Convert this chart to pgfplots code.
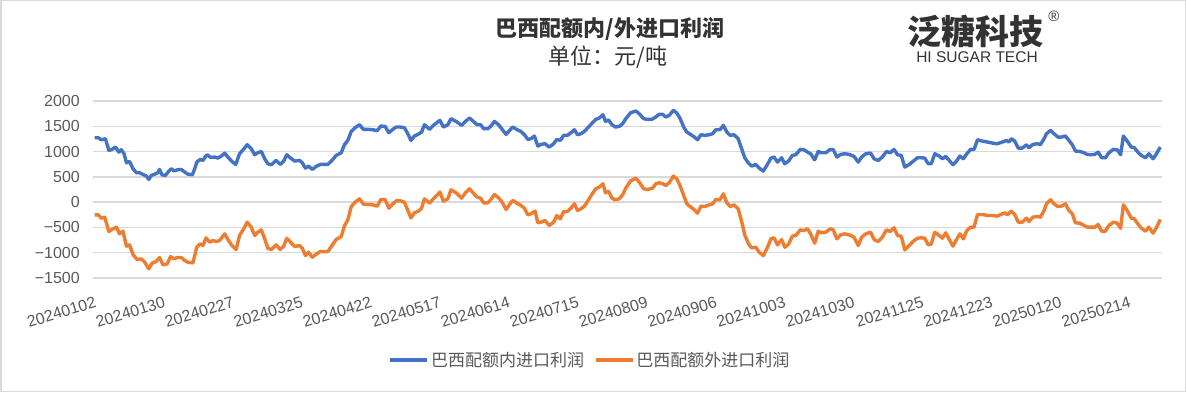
\documentclass[border=0pt]{standalone}
\usepackage{fontspec}
\setmainfont{Liberation Sans}
\newfontfamily\cjk{Noto Sans CJK SC}
\usepackage{pgfplots}
\pgfplotsset{compat=1.18}
\usepackage{pgfplotstable}
\definecolor{sblue}{HTML}{4472C4}
\definecolor{sorange}{HTML}{ED7D31}
\definecolor{tgray}{HTML}{595959}
\definecolor{ggray}{HTML}{D9D9D9}
\definecolor{dgray}{HTML}{333333}

\pgfplotstableread{
x y
0 1274
1.0 1274
1.9 1234
3.1 1254
4.1 1023
5.0 1043
6.0 1089
7.0 990
7.7 1036
8.5 957
9.2 779
10.1 805
11.1 660
12.1 581
13.0 581
14.0 548
15.0 515
15.7 449
16.4 528
17.4 554
18.3 581
18.8 647
19.5 541
20.5 528
21.4 607
22.2 660
23.0 620
24.1 640
25.1 647
26.1 594
27.0 554
28.3 541
29.0 660
29.6 792
30.6 845
31.4 825
32.0 891
32.6 937
33.6 885
34.8 891
35.7 871
36.7 911
37.7 970
38.6 891
39.8 805
40.9 746
42.0 957
43.3 1056
44.2 1135
45.4 1056
46.4 937
47.3 977
48.3 1003
49.3 858
50.2 759
51.2 739
52.6 825
53.8 746
54.8 812
55.7 937
56.8 871
58.0 812
59.4 825
60.2 779
61.1 673
62.0 713
63.1 647
64.2 706
65.4 746
66.6 746
67.6 746
68.8 825
70.0 924
71.5 977
72.4 1135
73.4 1221
74.4 1399
75.5 1472
76.8 1531
77.9 1439
79.2 1439
80.6 1432
81.9 1413
83.0 1505
84.2 1498
85.3 1373
86.2 1426
87.4 1485
88.6 1485
89.8 1472
90.8 1353
91.7 1221
92.7 1307
93.9 1347
94.8 1386
95.6 1531
97.1 1439
98.2 1518
99.2 1571
100.1 1617
101.1 1485
102.4 1531
103.3 1650
104.8 1597
106.4 1518
107.5 1597
108.7 1663
109.8 1597
110.9 1531
111.9 1531
112.8 1452
114.0 1452
114.9 1505
115.9 1597
117.1 1531
118.0 1452
119.3 1340
120.3 1419
121.2 1485
122.5 1432
123.6 1399
124.6 1333
125.6 1241
126.5 1254
127.5 1307
128.5 1109
129.4 1142
130.6 1155
131.8 1089
133.1 1155
134.0 1241
135.0 1221
136.0 1320
137.1 1320
138.1 1373
139.1 1432
140.0 1333
141.0 1353
142.0 1399
142.9 1465
144.1 1551
145.3 1637
146.3 1663
147.4 1729
148.1 1597
149.0 1624
150.0 1531
151.0 1485
152.1 1498
153.1 1551
154.0 1650
155.4 1769
156.9 1802
157.9 1749
159.2 1650
160.3 1637
161.5 1637
162.4 1670
163.7 1736
164.7 1736
165.6 1683
166.6 1716
167.8 1815
168.8 1762
169.8 1650
170.8 1485
171.7 1386
172.9 1333
173.9 1287
174.8 1234
175.8 1333
176.9 1320
178.2 1333
179.2 1353
180.1 1432
181.3 1432
182.3 1518
183.3 1386
184.3 1320
185.4 1333
186.6 1254
187.6 1056
188.5 878
189.6 772
190.5 713
191.7 746
192.7 673
193.9 614
194.9 726
196.1 871
197.0 891
198.0 792
199.2 878
200.1 759
201.2 812
202.3 924
203.3 937
204.6 1043
205.7 1036
206.7 990
207.6 957
208.8 838
209.8 1003
210.7 977
212.0 977
213.3 1043
214.2 1036
215.2 891
216.3 944
217.5 957
218.8 944
220.2 904
221.4 792
222.4 891
223.6 957
225.0 970
226.0 858
227.2 825
228.4 891
229.6 1003
230.7 977
231.8 1043
232.8 937
233.9 924
234.9 693
236.2 746
237.4 812
238.6 878
239.7 878
240.7 871
241.7 759
242.6 759
243.6 957
244.9 911
245.8 858
246.8 904
247.8 825
248.9 739
249.9 812
250.9 911
251.9 858
252.9 957
254.0 1043
255.0 1043
256.0 1234
257.4 1208
258.9 1188
260.3 1168
261.7 1155
263.2 1188
264.4 1221
265.1 1188
265.8 1254
266.8 1208
267.8 1069
269.0 1069
270.2 1135
270.9 1076
272.1 1142
273.3 1155
274.3 1142
275.3 1254
276.0 1353
277.2 1419
278.2 1353
279.3 1287
280.3 1287
281.5 1307
282.5 1221
283.5 1135
284.4 1010
285.7 1003
286.9 977
287.8 944
289.0 937
290.0 944
291.0 990
292.0 878
293.1 878
294.1 977
295.4 1043
296.5 1036
297.5 937
298.3 1307
299.4 1208
300.6 1089
301.5 1076
302.5 990
303.5 924
304.7 878
305.7 957
306.9 858
307.8 944
309.0 1089
}\inquota

\pgfplotstableread{
x y
0 -251
1.0 -251
1.9 -317
2.9 -297
4.1 -581
5.0 -541
6.3 -495
7.2 -627
8.2 -574
9.2 -871
10.1 -845
11.1 -1036
12.3 -1135
13.5 -1122
14.5 -1188
15.7 -1320
16.6 -1208
17.8 -1175
18.8 -1095
19.8 -1241
21.0 -1221
22.0 -1076
23.0 -1122
23.9 -1095
25.1 -1095
26.1 -1155
27.0 -1188
28.5 -1201
29.0 -1056
29.6 -891
30.6 -825
31.4 -858
32.3 -706
33.3 -792
34.3 -759
35.2 -779
36.2 -759
37.7 -627
38.8 -759
39.8 -858
41.0 -937
42.0 -660
43.3 -515
44.2 -396
45.4 -495
46.4 -660
47.3 -594
48.3 -548
49.3 -726
50.2 -911
51.2 -937
52.6 -845
53.8 -937
54.8 -871
55.7 -713
56.8 -792
58.0 -878
59.4 -858
60.2 -911
61.1 -1056
62.0 -990
63.1 -1089
64.2 -1030
65.4 -977
66.6 -977
67.6 -977
68.8 -858
70.0 -739
71.5 -680
72.4 -475
73.4 -350
74.4 -86
75.5 0
76.8 66
77.9 -40
79.2 -46
80.6 -53
81.9 -79
83.0 53
84.2 53
85.3 -119
86.2 -53
87.4 26
88.6 26
89.8 0
90.8 -165
91.7 -310
92.7 -211
93.9 -178
94.8 -119
95.6 66
97.1 -20
98.2 66
99.2 132
100.1 198
101.1 20
102.4 66
103.3 244
104.8 185
106.4 79
107.5 185
108.7 264
109.8 178
110.9 99
111.9 79
112.8 -13
114.0 -13
114.9 53
115.9 152
117.1 86
118.0 13
119.3 -145
120.3 -46
121.2 33
122.5 -20
123.6 -66
124.6 -119
125.6 -251
126.5 -231
127.7 -178
128.5 -409
129.4 -396
130.6 -363
131.8 -462
133.1 -396
134.0 -264
135.0 -330
136.0 -185
137.1 -185
138.1 -119
139.1 -33
140.0 -165
141.0 -132
142.0 -79
142.9 13
144.1 145
145.3 264
146.3 297
147.4 363
148.1 185
149.0 218
150.0 79
151.0 46
152.1 66
153.1 145
154.0 277
155.4 420
156.9 475
157.9 396
159.2 264
160.3 251
161.8 277
162.7 363
163.7 383
164.7 363
165.6 330
166.6 383
167.8 515
168.8 462
169.8 317
170.8 132
171.7 -33
172.9 -99
173.9 -152
174.8 -218
175.8 -79
176.9 -86
178.2 -53
179.2 -33
180.1 53
181.3 46
182.3 165
183.3 -13
184.3 -86
185.4 -53
186.6 -132
187.6 -383
188.5 -647
189.6 -825
190.5 -904
191.7 -891
192.7 -990
193.9 -1056
194.9 -924
196.1 -726
197.0 -706
198.0 -845
199.2 -739
200.1 -891
201.2 -832
202.3 -673
203.3 -660
204.6 -548
205.7 -561
206.7 -528
207.6 -627
208.8 -812
209.8 -574
210.7 -607
212.0 -594
213.3 -528
214.2 -548
215.2 -726
216.3 -647
217.5 -627
218.8 -647
220.2 -693
221.4 -858
222.4 -693
223.6 -627
225.0 -594
226.0 -739
227.2 -779
228.4 -693
229.6 -548
230.7 -581
231.8 -508
232.8 -660
233.9 -673
234.9 -944
236.2 -858
237.4 -772
238.6 -713
239.7 -706
240.7 -713
241.7 -845
242.6 -825
243.6 -594
244.9 -660
245.8 -713
246.8 -607
247.8 -739
248.9 -871
249.9 -739
250.9 -627
251.9 -726
252.9 -561
254.0 -495
255.0 -495
256.0 -244
257.4 -244
258.9 -264
260.3 -264
261.7 -277
263.2 -231
263.9 -211
264.6 -251
265.8 -178
266.8 -244
267.8 -396
269.0 -396
270.2 -317
270.9 -383
272.1 -297
273.3 -284
274.3 -297
275.3 -165
276.0 -33
277.2 46
278.2 -33
279.3 -86
280.3 -79
281.5 -33
282.5 -165
283.5 -231
284.4 -409
285.7 -416
286.9 -462
287.8 -495
289.0 -495
290.0 -495
291.0 -442
292.0 -574
293.1 -574
294.1 -462
295.4 -396
296.5 -416
297.5 -515
298.3 -53
299.4 -165
300.6 -317
301.5 -330
302.5 -429
303.5 -515
304.7 -574
305.7 -495
306.9 -614
307.8 -515
309.0 -343
}\outquota

\begin{document}
\begin{tikzpicture}
\path[use as bounding box] (0pt,0pt) rectangle (1186pt,392pt);
\draw[ggray, line width=1.5pt] (0.75pt,0.75pt) rectangle (1185.25pt,391.25pt);
\begin{axis}[
  at={(93pt,114pt)}, anchor=south west, scale only axis,
  width=1069pt, height=177pt,
  xmin=-0.5, xmax=309.5, ymin=-1500, ymax=2000,
  axis line style={draw=none},
  ytick={-1500,-1000,...,2000},
  yticklabels={−1500,−1000,−500,0,500,1000,1500,2000},
  ymajorgrids, grid style={ggray, line width=1.3pt},
  major tick length=0pt,
  xtick={0,20,...,300},
  xticklabels={20240102,20240130,20240227,20240325,20240422,20240517,20240614,20240715,20240809,20240906,20241003,20241030,20241125,20241223,20250120,20250214},
  tick label style={font=\fontsize{16}{16}\selectfont, text=tgray},
  yticklabel style={anchor=east, inner sep=0pt, xshift=-13pt},
  xticklabel style={rotate=17, anchor=north east, inner sep=0pt, yshift=-17pt, xshift=-6pt},
  legend style={at={(0.465,-0.463)}, anchor=center, draw=none, fill=none,
    legend columns=2, font=\cjk\fontsize{17}{17}\selectfont, text=tgray,
    /tikz/every even column/.append style={column sep=8pt}, cells={anchor=west}},
  legend image code/.code={\draw[#1, line width=3.4pt] (0pt,0pt) -- (37pt,0pt);},
  clip=false,
]
\addplot[sblue, line width=3.4pt, line join=round] table[x=x,y=y] {\inquota};
\addlegendentry{巴西配额内进口利润}
\addplot[sorange, line width=3.4pt, line join=round] table[x=x,y=y] {\outquota};
\addlegendentry{巴西配额外进口利润}
\end{axis}
\node[font=\cjk\bfseries\fontsize{22}{22}\selectfont, text=dgray] at (610pt,363pt) {巴西配额内/外进口利润};
\node[font=\cjk\fontsize{22}{22}\selectfont, text=dgray] at (608pt,335pt) {单位：元/吨};
\node[font=\cjk\bfseries\fontsize{34}{34}\selectfont, text=dgray] at (975pt,361pt) {泛糖科技};
\node[font=\fontsize{15}{15}\selectfont, text=dgray] at (1054pt,376pt) {®};
\node[font=\fontsize{15.5}{15.5}\selectfont, text=dgray] at (977pt,335pt) {HI SUGAR TECH};
\end{tikzpicture}
\end{document}
